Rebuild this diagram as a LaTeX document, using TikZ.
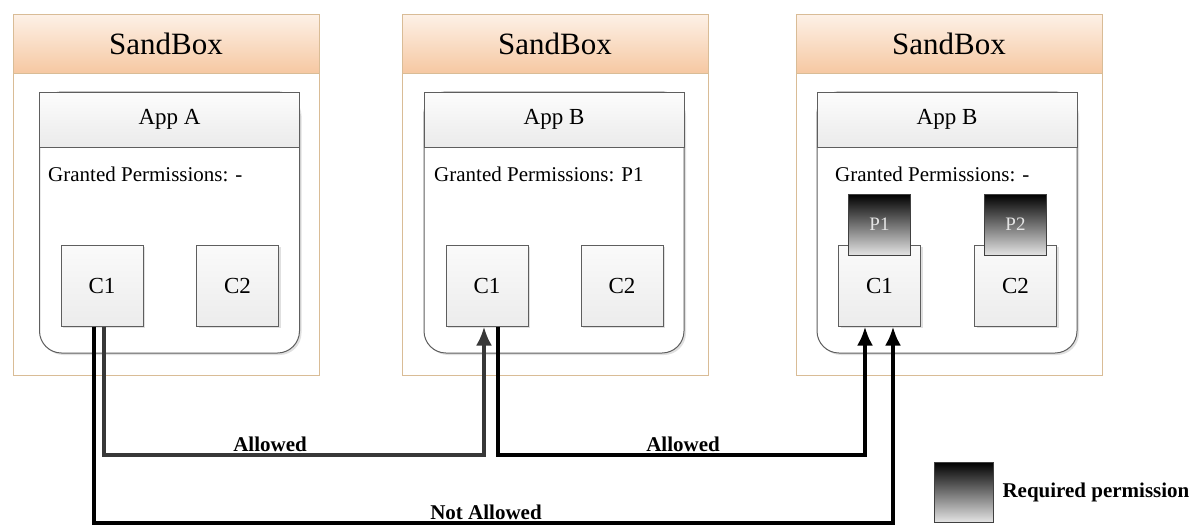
\documentclass[tikz,border=0pt]{standalone}
\usepackage{fontspec}
\setmainfont{Liberation Serif}
\usepackage{xcolor}
\usetikzlibrary{arrows.meta,positioning}

\definecolor{sandline}{HTML}{D9BC96}
\definecolor{sandtop}{HTML}{FDF1E7}
\definecolor{sandbot}{HTML}{F6C8A2}
\definecolor{boxline}{HTML}{5E5E5E}

\begin{document}
\begin{tikzpicture}[x=1pt,y=-1pt,
                shade box/.style = {preaction={draw=none, fill=black!12, transform canvas={xshift=2pt, yshift=-2pt}}},
                sandbox/.style = {draw=sandline, line width=1pt, minimum width=306pt, minimum height=361pt, inner sep=0pt},
                sandhead/.style = {draw=sandline, line width=1pt, top color=sandtop, bottom color=sandbot, anchor=north,
                    minimum width=306pt, minimum height=59pt, inner sep=0pt},
                app/.style = {shade box, draw=boxline, line width=1pt, fill=white, rounded corners=22pt,
                    minimum width=260pt, minimum height=261pt},
                apphead/.style = {draw=boxline, line width=1pt, top color=gray!2, bottom color=gray!16, anchor=north,
                    minimum width=260pt, minimum height=55pt},
                granted/.style = {anchor=west, inner sep=0pt},
                comp/.style = {shade box, draw=boxline, line width=1pt, top color=gray!4, bottom color=gray!15,
                    minimum width=82pt, minimum height=81pt},
                perm/.style = {draw=black!75, line width=1pt, top color=black, bottom color=gray!22, minimum width=62pt, minimum height=61pt,
                    text=gray!20},
                call/.style = {line width=4pt, -{Latex[length=19pt,width=16pt]}}]
                \useasboundingbox (0,0) rectangle (1202,528);

                % app A
                \node[sandbox] (sb1) at (166,194.5) {};
                \node[sandhead] (sb1h) at (sb1.north) {\fontsize{31}{31}\selectfont SandBox};
                \node[app] (a1) at (169.5,222.5) {};
                \node[apphead] (a1h) at (a1.north) {\fontsize{23}{23}\selectfont App A};
                \node[granted] (a1g) at (48,174) {\fontsize{21}{21}\selectfont Granted Permissions: -};
                \node[comp] (a1c1) at (102,285.5) {\fontsize{23}{23}\selectfont C1};
                \node[comp] (a1c2) at (237.5,285.5) {\fontsize{23}{23}\selectfont C2};

                % app B, holds P1
                \node[sandbox] (sb2) at (555,194.5) {};
                \node[sandhead] (sb2h) at (sb2.north) {\fontsize{31}{31}\selectfont SandBox};
                \node[app] (b2) at (554,222.5) {};
                \node[apphead] (b2h) at (b2.north) {\fontsize{23}{23}\selectfont App B};
                \node[granted] (b2g) at (434,174) {\fontsize{21}{21}\selectfont Granted Permissions: P1};
                \node[comp] (b2c1) at (487,285.5) {\fontsize{23}{23}\selectfont C1};
                \node[comp] (b2c2) at (622,285.5) {\fontsize{23}{23}\selectfont C2};

                % app B, components guarded
                \node[sandbox] (sb3) at (949,194.5) {};
                \node[sandhead] (sb3h) at (sb3.north) {\fontsize{31}{31}\selectfont SandBox};
                \node[app] (b3) at (947,222.5) {};
                \node[apphead] (b3h) at (b3.north) {\fontsize{23}{23}\selectfont App B};
                \node[granted] (b3g) at (835,174) {\fontsize{21}{21}\selectfont Granted Permissions: -};
                \node[comp] (b3c1) at (879.5,285.5) {\fontsize{23}{23}\selectfont C1};
                \node[comp] (b3c2) at (1015.5,285.5) {\fontsize{23}{23}\selectfont C2};
                \node[perm] (p1) at (879.5,224.5) {\fontsize{19}{19}\selectfont P1};
                \node[perm] (p2) at (1015.5,224.5) {\fontsize{19}{19}\selectfont P2};

                % calls between components
                \coordinate (mid) at (0,455);
                \coordinate (low) at (0,523);
                \coordinate (a1s) at ([xshift=2pt]a1c1.south);
                \coordinate (a1t) at ([xshift=-8pt]a1c1.south);
                \coordinate (b2s) at ([xshift=11pt]b2c1.south);
                \draw[call, black!78] (a1s) -- (a1s |- mid) -| ([xshift=-3pt]b2c1.south);
                \draw[call] (b2s) -- (b2s |- mid) -| ([xshift=-14.5pt]b3c1.south);
                \draw[call] (a1t) -- (a1t |- low) -| ([xshift=13.5pt]b3c1.south);
                \node (ok1) at (270,444) {\fontsize{21}{21}\selectfont\bfseries Allowed};
                \node (ok2) at (683,444) {\fontsize{21}{21}\selectfont\bfseries Allowed};
                \node (no) at (486,512) {\fontsize{21}{21}\selectfont\bfseries Not Allowed};

                % key
                \node[perm, minimum width=59pt, minimum height=60pt] (key) at (964,492) {};
                \node[right=5pt of key] (keytxt) {\fontsize{21}{21}\selectfont\bfseries Required permission};
\end{tikzpicture}
\end{document}
